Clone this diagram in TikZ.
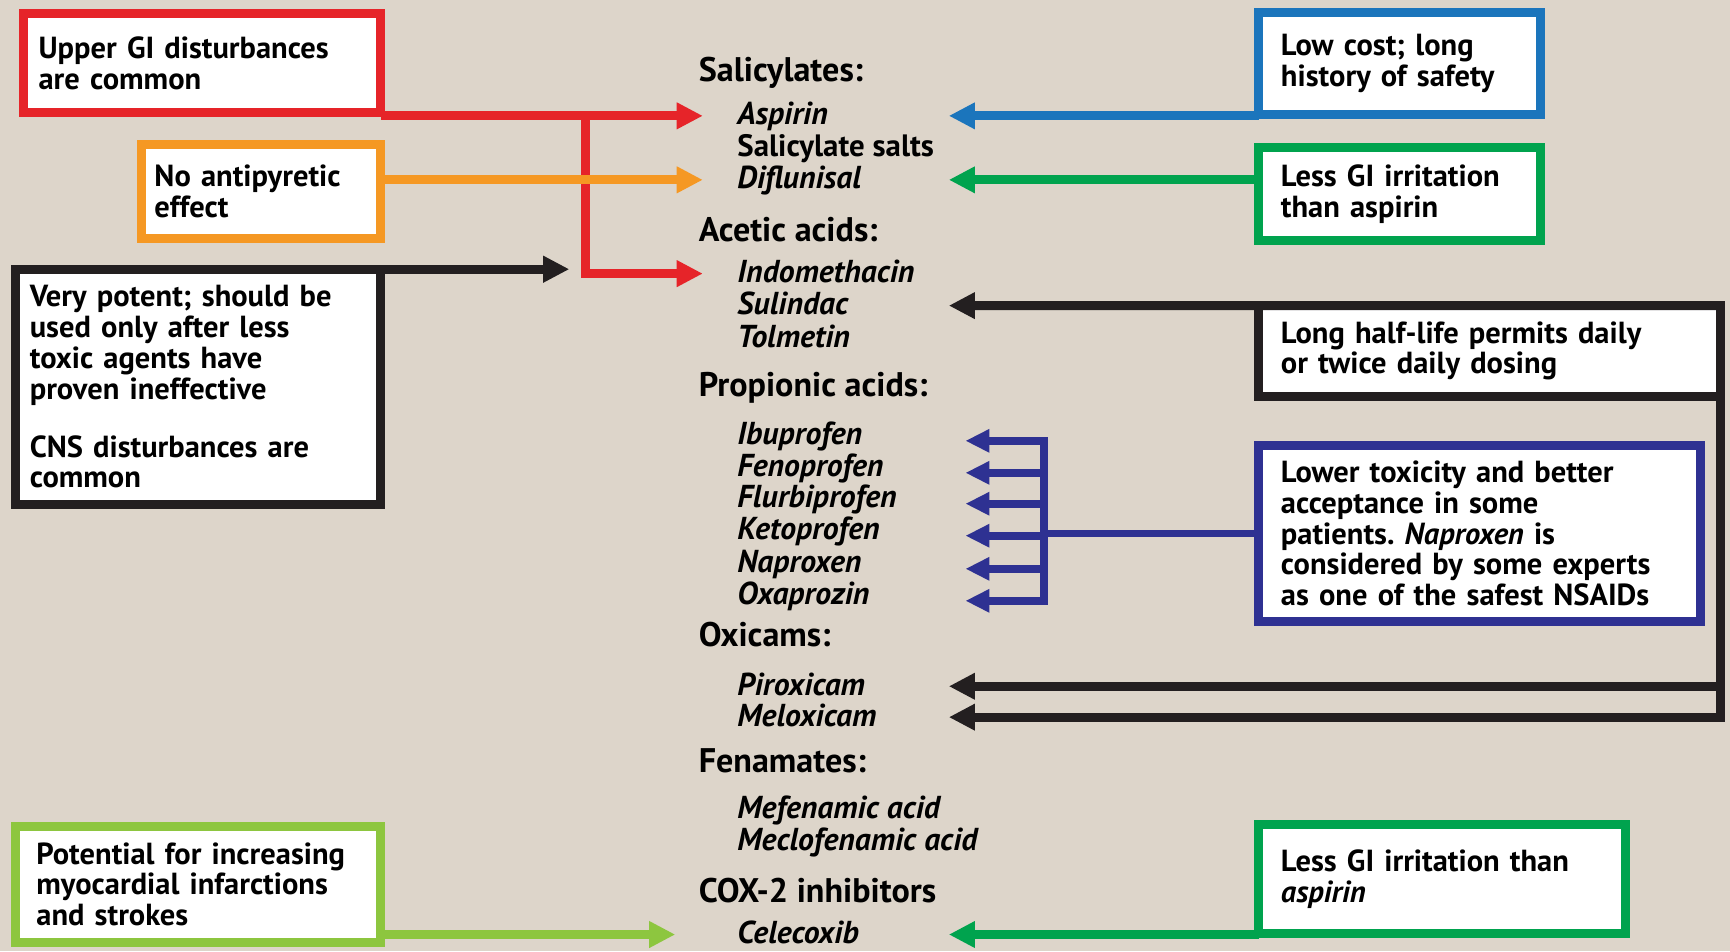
\documentclass[tikz,border=0pt]{standalone}
\usepackage{fontspec}
\setmainfont{PT Sans}
\usetikzlibrary{arrows.meta, positioning}

\definecolor{bgtan}{RGB}{221,213,202}
\definecolor{nred}{RGB}{230,36,41}
\definecolor{norange}{RGB}{245,152,35}
\definecolor{nblack}{RGB}{35,31,32}
\definecolor{nblue}{RGB}{27,117,188}
\definecolor{ngreen}{RGB}{0,163,78}
\definecolor{nnavy}{RGB}{46,49,146}
\definecolor{nlime}{RGB}{141,198,63}

\frenchspacing
\begin{document}
\begin{tikzpicture}[x=0.55pt, y=-0.55pt,
    note/.style={draw=#1, line width=4.4pt, fill=white, rectangle, align=left, inner ysep=0pt, outer sep=0pt,
                 font=\fontsize{15.2}{15.4}\selectfont\bfseries},
    group/.style={anchor=west, inner sep=0pt, text height=12pt, text depth=3pt,
                  font=\fontsize{17}{18}\selectfont\bfseries},
    drug/.style={anchor=west, inner sep=0pt, text height=12pt, text depth=3pt,
                 font=\fontsize{15.8}{17}\selectfont\bfseries\itshape},
    link/.style={draw=#1, line width=4.4pt, -{Triangle[length=13pt, width=12.5pt]}},
    thinlink/.style={draw=#1, line width=3.9pt, -{Triangle[length=12pt, width=11pt]}}
]
    % Background
    \fill[bgtan] (0,0) rectangle (1568,862);
    \useasboundingbox (0,0) rectangle (1568,862);

    % Notes, left
    \node (up-gi) [note=nred, minimum height=49.5pt, inner xsep=7.7pt, text width=162.8pt] at (183,57)
        {Upper GI disturbances\\are common};
    \node (no-fever) [note=norange, minimum height=46.75pt, inner xsep=6.6pt, text width=106.15pt] at (236.5,173.5)
        {No antipyretic\\effect};
    \node (potent) [note=nblack, minimum height=117.15pt, inner xsep=7.15pt, text width=167.75pt] at (179.5,350.5)
        {Very potent; should be\\used only after less\\toxic agents have\\proven ineffective\\[13.5pt]CNS disturbances are\\common};
    \node (mi-risk) [note=nlime, minimum height=57.75pt, inner xsep=10.45pt, text width=161.15pt] at (179.5,801.5)
        {Potential for increasing\\myocardial infarctions\\and strokes};

    % Notes, right
    \node (low-cost) [note=nblue, minimum height=51.15pt, inner xsep=11pt, text width=118.25pt] at (1268.5,57.5)
        {Low cost; long\\history of safety};
    \node (less-gi) [note=ngreen, minimum height=46.2pt, inner xsep=11pt, text width=118.25pt] at (1268.5,176)
        {Less GI irritation\\than aspirin};
    \node (half-life) [note=nblack, minimum height=45.1pt, inner xsep=11pt, text width=207.9pt] at (1350,318)
        {Long half-life permits daily\\or twice daily dosing};
    \node (low-tox) [note=nnavy, minimum height=87.45pt, inner xsep=11pt, text width=198pt] at (1341,483.5)
        {Lower toxicity and better\\acceptance in some\\patients. \textit{Naproxen} is\\considered by some experts\\as one of the safest NSAIDs};
    \node (less-gi-cox) [note=ngreen, minimum height=54.45pt, inner xsep=11pt, text width=160.6pt] at (1307,796.5)
        {Less GI irritation than\\\textit{aspirin}};

    % Drug classes
    \node (salicylates) [group] at (633,66) {Salicylates:};
    \node (aspirin) [drug] at (668,105) {Aspirin};
    \node (salts) [drug, font=\fontsize{15.4}{17}\selectfont\bfseries] at (668,134) {Salicylate salts};
    \node (diflunisal) [drug] at (668,163) {Diflunisal};
    \node (acetic) [group] at (633,211) {Acetic acids:};
    \node (indo) [drug] at (668,248) {Indomethacin};
    \node (sulindac) [drug] at (668,277) {Sulindac};
    \node (tolmetin) [drug] at (668,307) {Tolmetin};
    \node (propionic) [group] at (633,351) {Propionic acids:};
    \node (ibu) [drug] at (668,395) {Ibuprofen};
    \node (feno) [drug] at (668,424) {Fenoprofen};
    \node (flurbi) [drug] at (668,452) {Flurbiprofen};
    \node (keto) [drug] at (668,481) {Ketoprofen};
    \node (napro) [drug] at (668,511) {Naproxen};
    \node (oxa) [drug] at (668,540) {Oxaprozin};
    \node (oxicams) [group] at (633,578) {Oxicams:};
    \node (piro) [drug] at (668,622) {Piroxicam};
    \node (melo) [drug] at (668,650) {Meloxicam};
    \node (fenamates) [group] at (633,692) {Fenamates:};
    \node (mefe) [drug] at (668,734) {Mefenamic acid};
    \node (meclo) [drug] at (668,763) {Meclofenamic acid};
    \node (cox) [group] at (633,810) {COX-2 inhibitors};
    \node (celecoxib) [drug] at (668,847) {Celecoxib};

    % Arrow ends
    \coordinate (ltip) at (637,0);
    \coordinate (ctip) at (612,0);
    \coordinate (ptip) at (516,0);
    \coordinate (rtip) at (860,0);
    \coordinate (ntip) at (875,0);
    \coordinate (bus) at (946,0);
    \coordinate (split) at (531,0);

    % Arrows, left
    \draw [link=nred] (up-gi.east |- aspirin) -- (aspirin -| ltip);
    \draw [link=nred] (aspirin -| split) |- (indo -| ltip);
    \draw [link=norange] (no-fever.east |- diflunisal) -- (diflunisal -| ltip);
    \draw [link=nblack] (potent.north east) -- (potent.north east -| ptip);
    \draw [link=nlime] (mi-risk.east |- celecoxib) -- (celecoxib -| ctip);

    % Arrows, right
    \draw [link=nblue] (low-cost.west |- aspirin) -- (aspirin -| rtip);
    \draw [link=ngreen] (less-gi.west |- diflunisal) -- (diflunisal -| rtip);
    \draw [link=nblack] (half-life.north east) -- (sulindac -| rtip);
    \draw [link=nblack] (half-life.east |- piro) -- (piro -| rtip);
    \draw [link=nblack] (half-life.north east) |- (melo -| rtip);
    \draw [link=ngreen] (less-gi-cox.west |- celecoxib) -- (celecoxib -| rtip);

    % Propionic acids bus
    \draw [nnavy, line width=3.9pt] (low-tox.west) -- (low-tox.west -| bus);
    \draw [nnavy, line width=3.9pt, line cap=rect] ([yshift=-2.5pt]bus |- ibu) -- ([yshift=-2.5pt]bus |- oxa);
    \foreach \d in {ibu, feno, flurbi, keto, napro, oxa}
        \draw [thinlink=nnavy] ([yshift=-2.5pt]bus |- \d) -- ([yshift=-2.5pt]\d -| ntip);
\end{tikzpicture}
\end{document}
